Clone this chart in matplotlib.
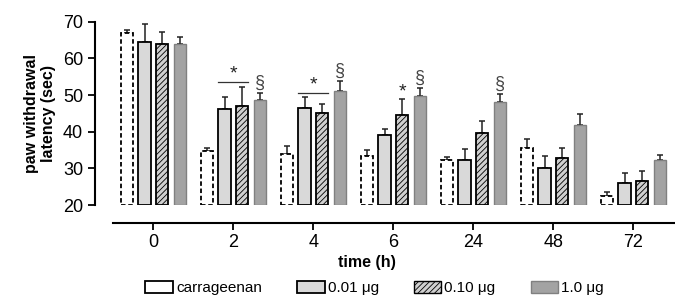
import matplotlib
matplotlib.use("Agg")
import matplotlib.pyplot as plt
from matplotlib.patches import Patch
import numpy as np

# data
times = ["0", "2", "4", "6", "24", "48", "72"]
groups = ["carrageenan", "0.01 μg", "0.10 μg", "1.0 μg"]
carr = [66.8, 34.8, 33.9, 33.3, 32.2, 35.6, 22.5]
carr_err = [1.0, 0.7, 2.3, 1.7, 1.0, 2.5, 1.1]
d001 = [64.5, 46.2, 46.6, 39.0, 32.2, 30.2, 25.9]
d001_err = [5.0, 3.2, 2.8, 1.7, 3.1, 3.3, 2.8]
d010 = [63.9, 47.1, 45.1, 44.6, 39.6, 32.9, 26.5]
d010_err = [3.3, 5.0, 2.6, 4.3, 3.3, 2.7, 2.8]
d100 = [63.8, 48.7, 51.2, 49.7, 48.2, 41.8, 32.3]
d100_err = [2.0, 1.8, 2.6, 2.3, 2.2, 3.0, 1.3]

plt.rcParams['font.family'] = ['Liberation Sans', 'DejaVu Sans']
plt.rcParams['hatch.linewidth'] = 0.6

fig = plt.figure(figsize=(6.75, 3.02), dpi=100)
ax = fig.add_axes([0.1407, 0.321, 0.8593, 0.607])

x = np.arange(len(times))
w = 0.155
offs = [-0.33, -0.11, 0.11, 0.33]
base = 20

series = [carr, d001, d010, d100]
errs = [carr_err, d001_err, d010_err, d100_err]
styles = [
    dict(facecolor='white', edgecolor='black', linestyle=(0, (2.5, 1.5)), linewidth=1.3),
    dict(facecolor='#d9d9d9', edgecolor='black', linewidth=1.3),
    dict(facecolor='#d0d0d0', edgecolor='black', linewidth=1.3, hatch='//////'),
    dict(facecolor='#a3a3a3', edgecolor='#808080', linewidth=1.0),
]

for vals, e, off, st, lab in zip(series, errs, offs, styles, groups):
    v = np.array(vals)
    ax.bar(x + off, v - base, w, bottom=base, label=lab, zorder=2, **st)
    ax.errorbar(x + off, v, yerr=[np.zeros_like(v), np.array(e)], fmt='none',
                ecolor='#222222', elinewidth=1.1, capsize=2.5, capthick=1.1, zorder=1)

# significance marks
def bracket(i, y):
    x0 = i + offs[1] - w / 2
    x1 = i + offs[2] + w / 2
    ax.plot([x0, x1], [y, y], color='#333333', lw=0.9, clip_on=False)
    ax.text((x0 + x1) / 2, y - 0.2, '*', ha='center', va='bottom', fontsize=14, color='#222222')

bracket(1, 53.6)
bracket(2, 50.7)
ax.text(3 + offs[2], d010[3] + d010_err[3] - 0.4, '*', ha='center', va='bottom', fontsize=14, color='#222222')
for i in [1, 2, 3, 4]:
    ax.text(i + offs[3], d100[i] + d100_err[i] + 0.3, '§', ha='center', va='bottom',
            fontsize=13, color='#444444')

ax.set_xlim(-0.729, 6.52)
ax.set_ylim(20, 70)
ax.set_yticks([20, 30, 40, 50, 60, 70])
ax.set_xticks(x)
ax.set_xticklabels(times)
ax.tick_params(axis='both', labelsize=13, width=1.3, length=5, direction='out')
ax.tick_params(axis='x', pad=3)

ax.spines['top'].set_visible(False)
ax.spines['right'].set_visible(False)
ax.spines['left'].set_linewidth(1.5)
ax.spines['bottom'].set_linewidth(1.5)
ax.spines['bottom'].set_position(('outward', 13))
ax.spines['bottom'].set_bounds(-0.5, 6.52)

ax.set_ylabel("paw withdrawal\nlatency (sec)", fontsize=11.5, fontweight='bold', labelpad=5)
fig.text(367 / 675, 1 - 262 / 302, "time (h)", fontsize=11.5, fontweight='bold',
         ha='center', va='center')

handles = [
    Patch(facecolor='white', edgecolor='black', linewidth=1.3),
    Patch(facecolor='#d9d9d9', edgecolor='black', linewidth=1.3),
    Patch(facecolor='#d0d0d0', edgecolor='black', linewidth=1.0, hatch='//////'),
    Patch(facecolor='#a3a3a3', edgecolor='#808080', linewidth=1.0),
]
fig.legend(handles, groups, loc='center', bbox_to_anchor=(0.555, 0.046), ncol=4, frameon=False,
           fontsize=11, handlelength=1.8, handleheight=0.8, handletextpad=0.2, columnspacing=2.3)

fig.savefig("out.png", dpi=100)
